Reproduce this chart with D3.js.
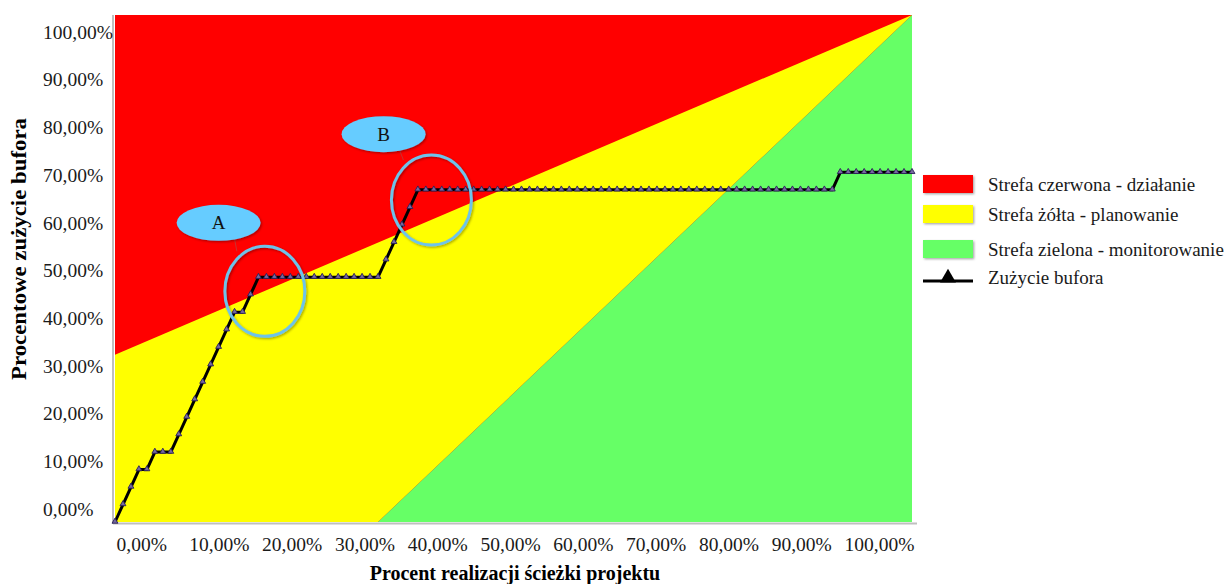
<!DOCTYPE html>
<html lang="pl">
<head>
<meta charset="utf-8">
<script src="https://cdn.jsdelivr.net/npm/d3@7"></script>
<style>
  html, body { margin: 0; padding: 0; background: #ffffff; }
  svg { display: block; font-family: "Liberation Serif", "Times New Roman", serif; }
</style>
</head>
<body>
<svg id="chart" width="1230" height="584"></svg>
<script>
// Percent of the critical chain completed (category positions, %)
const completion = [
  0, 1, 2, 3, 4, 5, 6, 7, 8, 9,
  10, 11, 12, 13, 14, 15, 16, 17, 18, 19,
  20, 21, 22, 23, 24, 25, 26, 27, 28, 29,
  30, 31, 32, 33, 34, 35, 36, 37, 38, 39,
  40, 41, 42, 43, 44, 45, 46, 47, 48, 49,
  50, 51, 52, 53, 54, 55, 56, 57, 58, 59,
  60, 61, 62, 63, 64, 65, 66, 67, 68, 69,
  70, 71, 72, 73, 74, 75, 76, 77, 78, 79,
  80, 81, 82, 83, 84, 85, 86, 87, 88, 89,
  90, 91, 92, 93, 94, 95, 96, 97, 98, 99,
  100
];

// Buffer consumed at each point (%)
const bufferUsed = [
  0.00, 3.45, 6.90, 10.34, 10.34, 13.79, 13.79, 13.79, 17.24, 20.69,
  24.14, 27.59, 31.03, 34.48, 37.93, 41.38, 41.38, 44.83, 48.28, 48.28,
  48.28, 48.28, 48.28, 48.28, 48.28, 48.28, 48.28, 48.28, 48.28, 48.28,
  48.28, 48.28, 48.28, 48.28, 51.72, 55.17, 58.62, 62.07, 65.52, 65.52,
  65.52, 65.52, 65.52, 65.52, 65.52, 65.52, 65.52, 65.52, 65.52, 65.52,
  65.52, 65.52, 65.52, 65.52, 65.52, 65.52, 65.52, 65.52, 65.52, 65.52,
  65.52, 65.52, 65.52, 65.52, 65.52, 65.52, 65.52, 65.52, 65.52, 65.52,
  65.52, 65.52, 65.52, 65.52, 65.52, 65.52, 65.52, 65.52, 65.52, 65.52,
  65.52, 65.52, 65.52, 65.52, 65.52, 65.52, 65.52, 65.52, 65.52, 65.52,
  65.52, 68.97, 68.97, 68.97, 68.97, 68.97, 68.97, 68.97, 68.97, 68.97,
  68.97
];

// Zone outlines in (completion %, buffer %) units
const redZone    = [[0, 0], [0, 100], [100, 100], [100, 0]];
const yellowZone = [[0, 0], [0, 33], [100, 100], [33, 0]];
const greenZone  = [[33, 0], [100, 100], [100, 0]];

// Axis tick values
const tickValues = [0, 10, 20, 30, 40, 50, 60, 70, 80, 90, 100];

// Legend entries
const legendZones = [
  { label: "Strefa czerwona - działanie",     color: "#ff0000" },
  { label: "Strefa żółta - planowanie",       color: "#ffff00" },
  { label: "Strefa zielona - monitorowanie",  color: "#66ff66" }
];
const legendLine = "Zużycie bufora";

// Annotation callouts: label bubble and highlighted region (in data units)
const callouts = [
  { label: "A", bubble: [13.0, 59.0], ring: [18.8, 45.5] },
  { label: "B", bubble: [33.7, 76.5], ring: [39.7, 63.5] }
];

const plLocale = d3.formatLocale({ decimal: ",", thousands: " ", grouping: [3], currency: ["", " zł"] });
const fmtPct = v => plLocale.format(".2f")(v) + "%";

const svg = d3.select("#chart");

const plot = { left: 115, right: 912, top: 15, bottom: 522 };
const x = d3.scaleLinear().domain([0, 100]).range([plot.left, plot.right]);
const y = d3.scaleLinear().domain([0, 100]).range([plot.bottom, plot.top]);

// Tick label placement scales
const xLabel = d3.scaleLinear().domain([0, 100]).range([116, 844]);
const yLabel = d3.scaleLinear().domain([0, 100]).range([509, 32]);

const defs = svg.append("defs");
const shadow = defs.append("filter").attr("id", "soft-shadow")
  .attr("x", "-20%").attr("y", "-20%").attr("width", "140%").attr("height", "140%");
shadow.append("feDropShadow")
  .attr("dx", 1.2).attr("dy", 1.2).attr("stdDeviation", 0.9)
  .attr("flood-color", "#000").attr("flood-opacity", 0.35);

// Zones
const zoneLine = d3.line().x(d => x(d[0])).y(d => y(d[1]));
const zones = svg.append("g").attr("class", "zones");
zones.append("path").attr("d", zoneLine(redZone) + "Z").attr("fill", "#ff0000");
zones.append("path").attr("d", zoneLine(yellowZone) + "Z").attr("fill", "#ffff00");
zones.append("path").attr("d", zoneLine(greenZone) + "Z").attr("fill", "#66ff66");

// Axis lines
svg.append("line")
  .attr("x1", x(0) - 2).attr("x2", x(0) - 2)
  .attr("y1", y(100)).attr("y2", y(0) + 2)
  .attr("stroke", "#bfbfbf").attr("stroke-width", 2);
svg.append("line")
  .attr("x1", x(0) - 2).attr("x2", x(100) + 5)
  .attr("y1", y(0) + 1.5).attr("y2", y(0) + 1.5)
  .attr("stroke", "#bfbfbf").attr("stroke-width", 2);

// Tick labels
const yAxis = svg.append("g")
  .attr("transform", "translate(43,0)")
  .call(d3.axisRight(yLabel).tickValues(tickValues).tickSize(0).tickPadding(0).tickFormat(fmtPct));
yAxis.attr("font-family", null);
yAxis.select(".domain").remove();
yAxis.selectAll("text")
  .style("font-family", "'Liberation Serif', serif")
  .attr("font-size", 19.5).attr("fill", "#1a1a1a")
  .attr("text-anchor", "start");

const xAxis = svg.append("g")
  .attr("transform", "translate(0,537)")
  .call(d3.axisBottom(xLabel).tickValues(tickValues).tickSize(0).tickPadding(0).tickFormat(fmtPct));
xAxis.attr("font-family", null);
xAxis.select(".domain").remove();
xAxis.selectAll("text")
  .style("font-family", "'Liberation Serif', serif")
  .attr("font-size", 19.5).attr("fill", "#1a1a1a")
  .attr("text-anchor", "start");

// Axis titles
svg.append("text")
  .attr("transform", `translate(26,249) rotate(-90)`)
  .attr("text-anchor", "middle")
  .attr("font-weight", "bold").attr("font-size", 20).attr("fill", "#000")
  .attr("textLength", 262).attr("lengthAdjust", "spacingAndGlyphs")
  .text("Procentowe zużycie bufora");

svg.append("text")
  .attr("x", 515).attr("y", 580)
  .attr("text-anchor", "middle")
  .attr("font-weight", "bold").attr("font-size", 20).attr("fill", "#000")
  .text("Procent realizacji ścieżki projektu");

// Buffer consumption line
const series = completion.map((c, i) => [c, bufferUsed[i]]);
svg.append("path")
  .datum(series)
  .attr("fill", "none")
  .attr("stroke", "#000")
  .attr("stroke-width", 3)
  .attr("stroke-linejoin", "round")
  .attr("d", zoneLine);

svg.append("g").selectAll("path")
  .data(series)
  .join("path")
  .attr("transform", d => `translate(${x(d[0])},${y(d[1]) - 0.5})`)
  .attr("d", d3.symbol(d3.symbolTriangle, 15))
  .attr("fill", "#76699f")
  .attr("stroke", "#2a1f58")
  .attr("stroke-width", 0.9);

// Callouts
const notes = svg.append("g").attr("class", "callouts");
callouts.forEach(c => {
  const bx = x(c.bubble[0]), by = y(c.bubble[1]);
  const rx = x(c.ring[0]), ry = y(c.ring[1]);
  notes.append("line")
    .attr("x1", bx + 16).attr("y1", by + 16)
    .attr("x2", rx - 28).attr("y2", ry - 40)
    .attr("stroke", "#8c6a6a").attr("stroke-width", 0.8).attr("opacity", 0.6);
  notes.append("ellipse")
    .attr("cx", bx).attr("cy", by).attr("rx", 42).attr("ry", 18)
    .attr("fill", "#66ccff")
    .attr("filter", "url(#soft-shadow)");
  notes.append("text")
    .attr("x", bx).attr("y", by + 6.5)
    .attr("text-anchor", "middle")
    .attr("font-size", 19).attr("fill", "#111")
    .text(c.label);
  notes.append("ellipse")
    .attr("cx", rx).attr("cy", ry).attr("rx", 40).attr("ry", 45)
    .attr("fill", "none")
    .attr("stroke", "#6ec3ea").attr("stroke-width", 3)
    .attr("filter", "url(#soft-shadow)");
});

// Legend
const legend = svg.append("g").attr("class", "legend");
const legendY = [184, 214, 249];
legendZones.forEach((d, i) => {
  legend.append("rect")
    .attr("x", 923).attr("y", legendY[i] - 9).attr("width", 50).attr("height", 18)
    .attr("fill", d.color)
    .attr("filter", "url(#soft-shadow)");
  legend.append("text")
    .attr("x", 988).attr("y", legendY[i] + 6.5)
    .attr("font-size", 19).attr("fill", "#1a1a1a")
    .text(d.label);
});
const lineY = 281;
legend.append("line")
  .attr("x1", 923).attr("x2", 973).attr("y1", lineY).attr("y2", lineY)
  .attr("stroke", "#000").attr("stroke-width", 3);
legend.append("path")
  .attr("transform", `translate(948,${lineY - 3})`)
  .attr("d", d3.symbol(d3.symbolTriangle, 110))
  .attr("fill", "#000");
legend.append("text")
  .attr("x", 988).attr("y", lineY + 3)
  .attr("font-size", 19).attr("fill", "#1a1a1a")
  .text(legendLine);
</script>
</body>
</html>
